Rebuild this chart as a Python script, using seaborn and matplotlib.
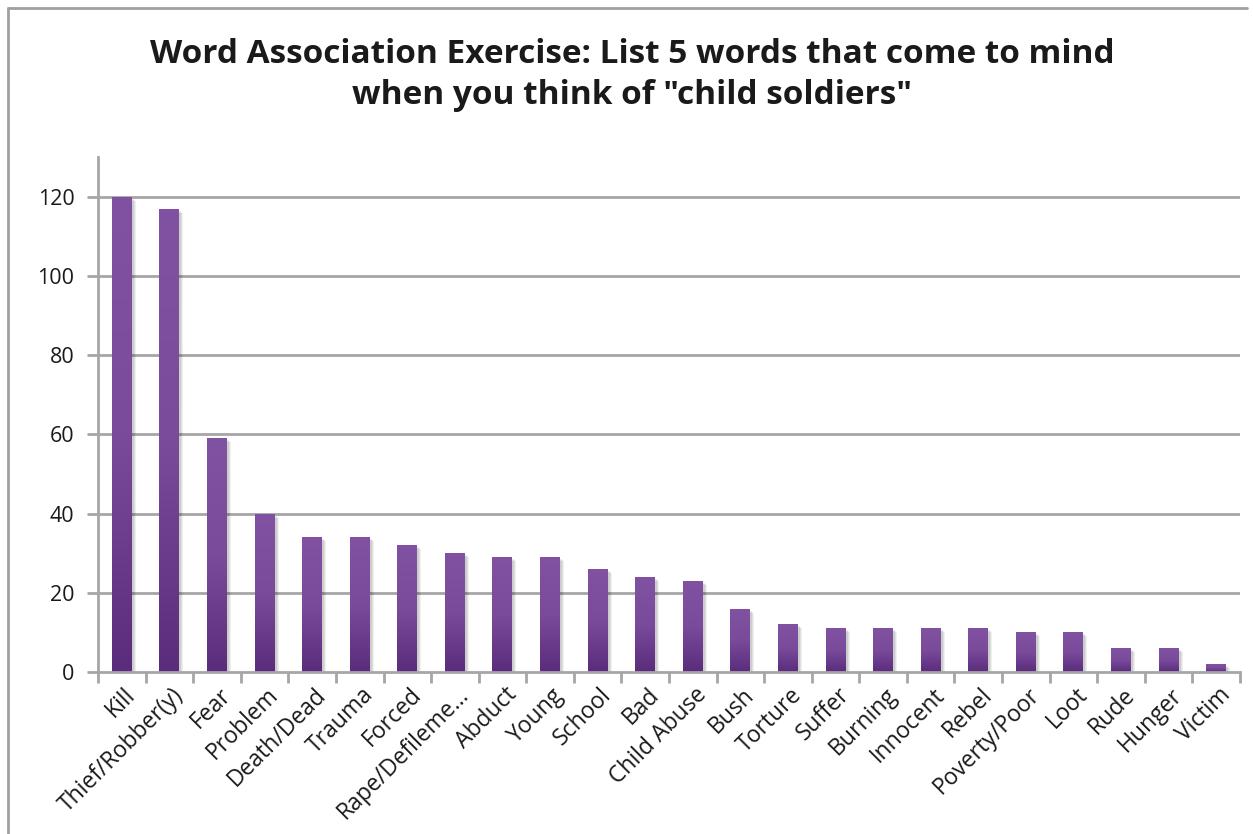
import numpy as np
import pandas as pd
import matplotlib
matplotlib.use("Agg")
import matplotlib.pyplot as plt
import seaborn as sns
from matplotlib.colors import LinearSegmentedColormap
from matplotlib.patches import Rectangle
from matplotlib.lines import Line2D
import matplotlib.transforms as mtransforms

# Survey responses: words associated with "child soldiers"
words = ["Kill", "Thief/Robber(y)", "Fear", "Problem", "Death/Dead", "Trauma",
         "Forced", "Rape/Defileme...", "Abduct", "Young", "School", "Bad",
         "Child Abuse", "Bush", "Torture", "Suffer", "Burning", "Innocent",
         "Rebel", "Poverty/Poor", "Loot", "Rude", "Hunger", "Victim"]
counts = [120, 117, 59, 40, 34, 34, 32, 30, 29, 29, 26, 24,
          23, 16, 12, 11, 11, 11, 11, 10, 10, 6, 6, 2]
y_ticks = [0, 20, 40, 60, 80, 100, 120]

title = ('Word Association Exercise: List 5 words that come to mind\n'
         'when you think of "child soldiers"')

sns.set_theme(style="white")
plt.rcParams["font.family"] = ["Open Sans", "DejaVu Sans"]

df = pd.DataFrame({"word": words, "count": counts})

W, H, DPI = 1253, 834, 100
fig = plt.figure(figsize=(W / DPI, H / DPI), dpi=DPI)
ax = fig.add_axes([98 / W, 1 - 672 / H, (1240 - 98) / W, (672 - 157) / H])

sns.barplot(data=df, x="word", y="count", ax=ax, width=0.42,
            color="#7a4a9a", saturation=1, linewidth=0, zorder=3)

grid_col = "#a6a6a8"
ax.set_ylim(0, 130)
ax.set_xlim(-0.5, len(words) - 0.5)
ax.set_yticks(y_ticks)
for v in y_ticks[1:]:
    ax.axhline(v, color=grid_col, lw=2, zorder=1)

# Vertical gradient fill with a soft drop shadow on every bar
cmap = LinearSegmentedColormap.from_list("violet", ["#8252a2", "#7a4a9b", "#5b2c7c"])
grad = np.linspace(0, 1, 256).reshape(-1, 1)
for p in list(ax.patches):
    x0, y0 = p.get_x(), p.get_y()
    w, h = p.get_width(), p.get_height()
    for k, a in [(4, 0.06), (3, 0.07), (2, 0.08)]:
        off = mtransforms.offset_copy(ax.transData, fig=fig, x=k, y=-k, units="dots")
        ax.add_patch(Rectangle((x0, y0), w, h, transform=off, facecolor="black",
                               alpha=a, lw=0, zorder=2))
    im = ax.imshow(grad, cmap=cmap, aspect="auto", extent=(x0, x0 + w, y0, y0 + h),
                   zorder=3.5, interpolation="bicubic")
    im.set_clip_path(p)
    p.set_facecolor("none")
ax.set_ylim(0, 130)
ax.set_xlim(-0.5, len(words) - 0.5)

# Axes lines and tick marks
for s in ["top", "right"]:
    ax.spines[s].set_visible(False)
for s in ["left", "bottom"]:
    ax.spines[s].set_color(grid_col)
    ax.spines[s].set_linewidth(2)
    ax.spines[s].set_zorder(4)

ax.tick_params(axis="y", which="both", left=True, length=8, width=2,
               color=grid_col, labelsize=15.5, labelcolor="#1a1a1a", pad=9)
ax.set_xticks(np.arange(len(words)))
ax.set_xticklabels([])
ax.tick_params(axis="x", which="major", bottom=False)
ax.set_xticks(np.arange(len(words) + 1) - 0.5, minor=True)
ax.tick_params(axis="x", which="minor", bottom=True, length=8, width=2, color=grid_col)

label_tr = mtransforms.offset_copy(ax.get_xaxis_transform(), fig=fig, x=2, y=-11, units="dots")
for i, wd in enumerate(words):
    ax.text(i, 0, wd, transform=label_tr, rotation=45, rotation_mode="anchor",
            ha="right", va="top", fontsize=16.5, color="#1a1a1a")

ax.set_xlabel("")
ax.set_ylabel("")

fig.text(632 / W, 1 - 75 / H, title, ha="center", va="center", fontsize=24,
         fontweight="bold", color="#1a1a1a", linespacing=1.35)

# Chart area frame
frame_col = "#a0a0a0"
fig.add_artist(Line2D([8 / W, 8 / W], [0, 1 - 8 / H], transform=fig.transFigure,
                      color=frame_col, lw=2))
fig.add_artist(Line2D([8 / W, 1247 / W], [1 - 8 / H, 1 - 8 / H], transform=fig.transFigure,
                      color=frame_col, lw=2))

fig.savefig("out.png", dpi=DPI, facecolor="white")
